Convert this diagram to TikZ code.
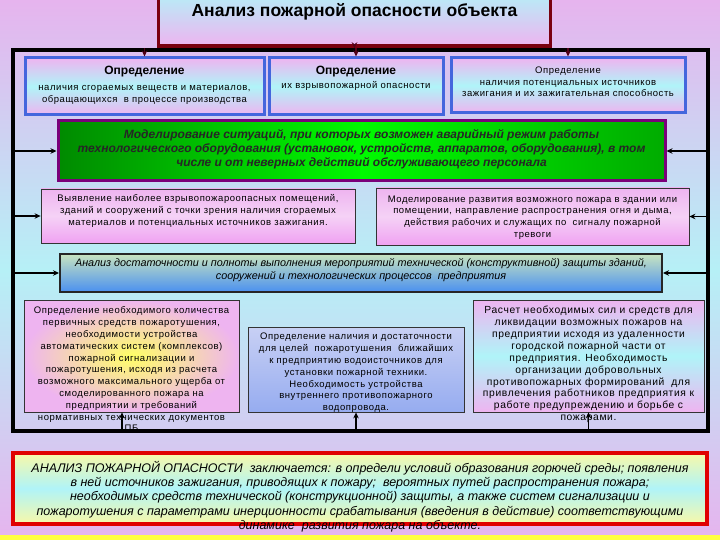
\documentclass[tikz,border=0pt]{standalone}
\usepackage{fontspec}
\setmainfont{Liberation Sans}
\newfontfamily\spaced[LetterSpace=6]{Liberation Sans}
\usetikzlibrary{arrows.meta}
\definecolor{bgpink}{HTML}{E6B4EE}
\definecolor{bgcyan}{HTML}{B6F0F6}
\definecolor{boxblue}{HTML}{4466DD}
\definecolor{boxpink}{HTML}{EEB4F0}
\definecolor{boxcyan}{HTML}{B0F4F8}
\definecolor{darkred}{HTML}{7A0010}
\definecolor{arrdark}{HTML}{500018}
\definecolor{purp}{HTML}{7A007A}
\definecolor{gdark}{HTML}{008A00}
\definecolor{gbright}{HTML}{00FA00}
\definecolor{redb}{HTML}{E00000}
\definecolor{paleyel}{HTML}{F8F8A8}
\definecolor{pgreen}{HTML}{C8E4C0}
\definecolor{pblue}{HTML}{4A90F0}
\definecolor{lblue}{HTML}{C8D0F4}
\definecolor{mblue}{HTML}{96ACF0}
\definecolor{yel}{HTML}{FFFF40}
\tikzset{
  arr/.style={-{Stealth[length=6pt,width=5.5pt]}, line width=1.5pt},
  arrred/.style={arr, draw=arrdark},
  topbox/.style={draw=boxblue, line width=3pt, top color=boxpink, bottom color=boxpink, middle color=boxcyan, inner sep=0},
  thinbox/.style={draw=black!80, line width=0.8pt, inner sep=0},
  txt/.style={align=center, inner sep=0, font=\spaced\fontsize{9.5}{11.8}\selectfont},
  hdr/.style={inner sep=0, font=\bfseries\fontsize{12}{14}\selectfont},
}
\begin{document}
\begin{tikzpicture}[x=1pt,y=-1pt]
\useasboundingbox (0,0) rectangle (720,540);
\shade[top color=bgpink, bottom color=bgpink, middle color=bgcyan] (0,0) rectangle (720,540);
\fill[yel] (0,535) rectangle (720,540);

% title
\node[draw=darkred, line width=3.5pt, top color=boxcyan, bottom color=boxpink, minimum width=392, minimum height=58, inner sep=0] (title) at (354.5,17) {};
\node[inner sep=0, font=\bfseries\fontsize{17.5}{20}\selectfont] (tt) at (354.5,12) {Анализ пожарной опасности объекта};

% frame
\node[draw, line width=3.5pt, minimum width=695, minimum height=381, inner sep=0] (frame) at (360.5,240.5) {};

% row 1
\node[topbox, minimum width=239, minimum height=57] (b1) at (144.5,86.5) {};
\node[topbox, minimum width=174, minimum height=57] (b2) at (356,86.5) {};
\node[topbox, minimum width=234, minimum height=55] (b3) at (568,85.5) {};
\node[hdr] (h1) at (144.5,72) {Определение};
\node[txt] (t1) at (144.5,95) {наличия сгораемых веществ и материалов,\\обращающихся \ в процессе производства};
\node[hdr] (h2) at (356,72) {Определение};
\node[txt] (t2) at (356,86) {их взрывопожарной опасности};
\node[txt, font=\spaced\fontsize{9.5}{11.5}\selectfont] (t3) at (568,82) {Определение\\наличия потенциальных источников\\зажигания и их зажигательная способность};

% green
\node[draw=purp, line width=3pt, left color=gdark, right color=gdark!70!gbright, middle color=gbright, minimum width=607, minimum height=60, inner sep=0] (g) at (361.5,151) {};
\node[align=center, inner sep=0, text=black!85, font=\bfseries\itshape\fontsize{12}{14.2}\selectfont] (gt) at (361.5,149) {Моделирование ситуаций, при которых возможен аварийный режим работы\\технологического оборудования (установок, устройств, аппаратов, оборудования), в том\\числе и от неверных действий обслуживающего персонала};

% row 3
\node[thinbox, top color=boxpink, bottom color=boxpink!90!magenta, middle color=boxpink!60!white, minimum width=314, minimum height=54] (ba) at (198,216) {};
\node[txt] (ta) at (198,211) {Выявление наиболее взрывопожароопасных помещений,\\зданий и сооружений с точки зрения наличия сгораемых\\материалов и потенциальных источников зажигания.};
\node[thinbox, top color=boxpink, bottom color=boxpink!90!magenta, middle color=boxpink!60!white, minimum width=313, minimum height=57] (bb) at (532.5,216.5) {};
\node[txt] (tb) at (532.5,217.5) {Моделирование развития возможного пожара в здании или\\помещении, направление распространения огня и дыма,\\действия рабочих и служащих по \ сигналу пожарной\\тревоги};

% row 4
\node[draw=black!85, line width=2pt, top color=pgreen, bottom color=pblue, minimum width=602, minimum height=38, inner sep=0] (r4) at (361,273) {};
\node[align=center, inner sep=0, font=\itshape\fontsize{10.8}{12.5}\selectfont] (t4) at (361,270) {Анализ достаточности и полноты выполнения мероприятий технической (конструктивной) защиты зданий,\\сооружений и технологических процессов \ предприятия};

% row 5
\node[thinbox, inner color=yellow!60!white, outer color=boxpink, minimum width=215, minimum height=112] (L) at (131.5,356) {};
\node[txt] (tL) at (131.5,369.5) {Определение необходимого количества\\первичных средств пожаротушения,\\необходимости устройства\\автоматических систем (комплексов)\\пожарной сигнализации и\\пожаротушения, исходя из расчета\\возможного максимального ущерба от\\смоделированного пожара на\\предприятии и требований\\нормативных технических документов\\ПБ};
\node[thinbox, top color=lblue, bottom color=mblue, minimum width=216, minimum height=85] (M) at (356,369.5) {};
\node[txt] (tM) at (356,373) {Определение наличия и достаточности\\для целей \ пожаротушения \ ближайших\\к предприятию водоисточников для\\установки пожарной техники.\\Необходимость устройства\\внутреннего противопожарного\\водопровода.};
\node[thinbox, top color=boxpink, bottom color=boxpink, middle color=boxcyan, minimum width=231, minimum height=112] (R) at (588.5,356) {};
\node[txt, font=\spaced\fontsize{10.3}{11.9}\selectfont] (tR) at (588.5,364.5) {Расчет необходимых сил и средств для\\ликвидации возможных пожаров на\\предприятии исходя из удаленности\\городской пожарной части от\\предприятия. Необходимость\\организации добровольных\\противопожарных формирований \ для\\привлечения работников предприятия к\\работе предупреждению и борьбе с\\пожарами.};

% bottom summary
\node[draw=redb, line width=4pt, top color=paleyel, bottom color=paleyel, middle color=boxcyan, minimum width=694, minimum height=71, inner sep=0] (S) at (360,488.5) {};
\node[align=center, inner sep=0, font=\itshape\fontsize{12.5}{14.2}\selectfont] (tS) at (360,496.5) {АНАЛИЗ ПОЖАРНОЙ ОПАСНОСТИ \ заключается: в определи условий образования горючей среды; появления\\в ней источников зажигания, приводящих к пожару; \ вероятных путей распространения пожара;\\необходимых средств технической (конструкционной) защиты, а также систем сигнализации и\\пожаротушения с параметрами инерционности срабатывания (введения в действие) соответствующими\\динамике \ развития пожара на объекте.};

% connectors
\draw[arrred] (title.south) -- (title.south |- frame.north);
\draw[arrred] (b1.north |- frame.north) -- (b1.north);
\draw[arrred] (b2.north |- frame.north) -- (b2.north);
\draw[arrred] (b3.north |- frame.north) -- (b3.north);
\draw[arr] (frame.west |- g.west) -- (g.west);
\draw[arr] (frame.east |- g.east) -- (g.east);
\draw[arr] (frame.west |- ba.west) -- (ba.west);
\draw[arr] (frame.east |- bb.east) -- (bb.east);
\draw[arr] (frame.west |- r4.west) -- (r4.west);
\draw[arr] (frame.east |- r4.east) -- (r4.east);
\coordinate (Lb) at ([xshift=-9.5pt]L.south);
\draw[arr] (Lb |- frame.south) -- (Lb);
\draw[arr] (M.south |- frame.south) -- (M.south);
\draw[arr] (R.south |- frame.south) -- (R.south);
\end{tikzpicture}
\end{document}
